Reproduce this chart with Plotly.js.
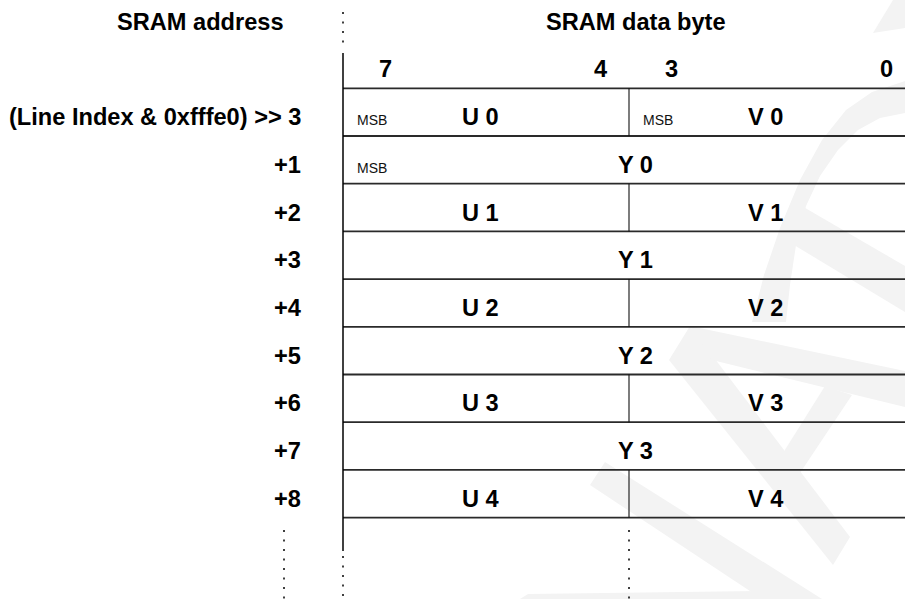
<!DOCTYPE html>
<html>
<head>
<meta charset="utf-8">
<script src="https://cdn.plot.ly/plotly-3.0.1.min.js"></script>
<style>
  html, body { margin: 0; padding: 0; background: #ffffff; }
  #chart { width: 905px; height: 599px; }
</style>
</head>
<body>
<div id="chart"></div>
<script>
// ---------------- data ----------------
const headers = ['SRAM address', 'SRAM data byte'];
const bitNumbers = [7, 4, 3, 0];
const addresses = ['(Line Index & 0xfffe0) >> 3', '+1', '+2', '+3', '+4', '+5', '+6', '+7', '+8'];
// each row: two labels = split nibble (U | V), one label = full byte (Y)
const cellLabels = [
  ['U 0', 'V 0'], ['Y 0'],
  ['U 1', 'V 1'], ['Y 1'],
  ['U 2', 'V 2'], ['Y 2'],
  ['U 3', 'V 3'], ['Y 3'],
  ['U 4', 'V 4']
];
// cells marked with an "MSB" note: [row, cell]
const msbCells = [[0, 0], [0, 1], [1, 0]];

// ---------------- layout geometry ----------------
const W = 905, H = 599;
const X0 = 343;     // left edge of data byte (bit 7 side)
const BIT = 71.5;   // px per bit
const Y0 = 88.3;    // top line of first row
const ROW = 47.7;   // px per row
const px2b = X => 8 - (X - X0) / BIT;
const px2r = Y => (Y - Y0) / ROW;
const xRange = [px2b(0), px2b(W)];
const yRange = [px2r(H), px2r(0)];

const FONT = 'Liberation Sans, Arial, Helvetica, sans-serif';
const big = {family: FONT, size: 23.6, color: '#000000', weight: 'bold'};
const small = {family: FONT, size: 14, color: '#111111'};

const shapes = [];
const annotations = [];

// ---------- faint watermark (decorative) ----------
const wm = [
  [[669,360],[690,326],[850,537],[833,565]],
  [[690,326],[905,371],[905,407],[712,360]],
  [[825,386],[852,395],[800,473],[783,453]],
  [[590,485],[605,462],[822,599],[762,599]],
  [[520,599],[528,594],[758,591],[764,599]],
  [[873,33],[893,0],[905,0],[905,28]],
  [[752,322],[764,275],[780,228],[800,180],[822,140],[846,110],[872,92],[905,81],[905,113],[880,118],[858,130],[838,150],[820,176],[806,206],[796,245],[790,285],[786,322]],
  [[800,205],[905,266],[905,312],[794,245]]
];
wm.forEach(poly => {
  const d = poly.map((p, i) => (i ? 'L' : 'M') + (p[0] / W).toFixed(5) + ',' + (1 - p[1] / H).toFixed(5)).join(' ') + ' Z';
  shapes.push({type: 'path', xref: 'paper', yref: 'paper', path: d,
               fillcolor: '#f3f3f3', line: {width: 0}, layer: 'below'});
});

// ---------- grid lines ----------
const nRows = cellLabels.length;
const xEnd = xRange[1] - 0.2;
for (let r = 0; r <= nRows; r++) {
  shapes.push({type: 'line', xref: 'x', yref: 'y', x0: 8, x1: xEnd, y0: r, y1: r,
               line: {color: '#2a2a2a', width: 1.8}});
}
cellLabels.forEach((cells, r) => {
  if (cells.length === 2) {
    shapes.push({type: 'line', xref: 'x', yref: 'y', x0: 4, x1: 4, y0: r, y1: r + 1,
                 line: {color: '#111111', width: 1.1}});
  }
});
// left border of the byte
shapes.push({type: 'line', xref: 'x', yref: 'y', x0: 8, x1: 8, y0: px2r(53), y1: px2r(551),
             line: {color: '#000000', width: 1.5}});
// dotted continuations
const dots = {color: '#000000', width: 1.5, dash: '2px,7.5px'};
shapes.push({type: 'line', xref: 'x', yref: 'y', x0: 8, x1: 8, y0: px2r(12), y1: px2r(50), line: dots});
shapes.push({type: 'line', xref: 'x', yref: 'y', x0: 8, x1: 8, y0: px2r(556), y1: yRange[0], line: dots});
shapes.push({type: 'line', xref: 'x', yref: 'y', x0: 4, x1: 4, y0: px2r(530), y1: yRange[0], line: dots});
shapes.push({type: 'line', xref: 'x', yref: 'y', x0: px2b(284), x1: px2b(284), y0: px2r(530), y1: yRange[0], line: dots});

// ---------- texts ----------
function ann(x, y, text, font, opts) {
  annotations.push(Object.assign({x: x, y: y, xref: 'x', yref: 'y', text: text, showarrow: false,
    font: font, xanchor: 'center', yanchor: 'middle'}, opts || {}));
}
// headers
ann(px2b(200), px2r(22), headers[0], big);
ann(4, px2r(22), headers[1], big, {xshift: 7});
// bit numbers
bitNumbers.forEach(b => ann(b + 0.5, px2r(69), String(b), big, {xshift: 7}));
// addresses
addresses.forEach((a, r) => ann(8, r + 0.5, a, big, {xanchor: 'right', xshift: -40, yshift: -5}));
// cells
cellLabels.forEach((cells, r) => {
  if (cells.length === 2) {
    ann(6, r + 0.5, cells[0], big, {xshift: -6, yshift: -5});
    ann(2, r + 0.5, cells[1], big, {xshift: -7, yshift: -5});
  } else {
    ann(4, r + 0.5, cells[0], big, {xshift: 6, yshift: -5});
  }
});
// MSB notes
msbCells.forEach(([r, c]) => {
  const left = cellLabels[r].length === 2 ? (c === 0 ? 8 : 4) : 8;
  ann(left, r + 0.5, 'MSB', small, {xanchor: 'left', xshift: 12, yshift: -8});
});

const layout = {
  width: W, height: H,
  margin: {l: 0, r: 0, t: 0, b: 0, pad: 0},
  paper_bgcolor: '#ffffff', plot_bgcolor: '#ffffff',
  showlegend: false,
  xaxis: {range: xRange, visible: false, fixedrange: true},
  yaxis: {range: yRange, visible: false, fixedrange: true},
  shapes: shapes,
  annotations: annotations
};

Plotly.newPlot('chart', [{x: [], y: [], type: 'scatter', mode: 'markers', hoverinfo: 'skip'}], layout,
  {staticPlot: true, displayModeBar: false});
</script>
</body>
</html>
